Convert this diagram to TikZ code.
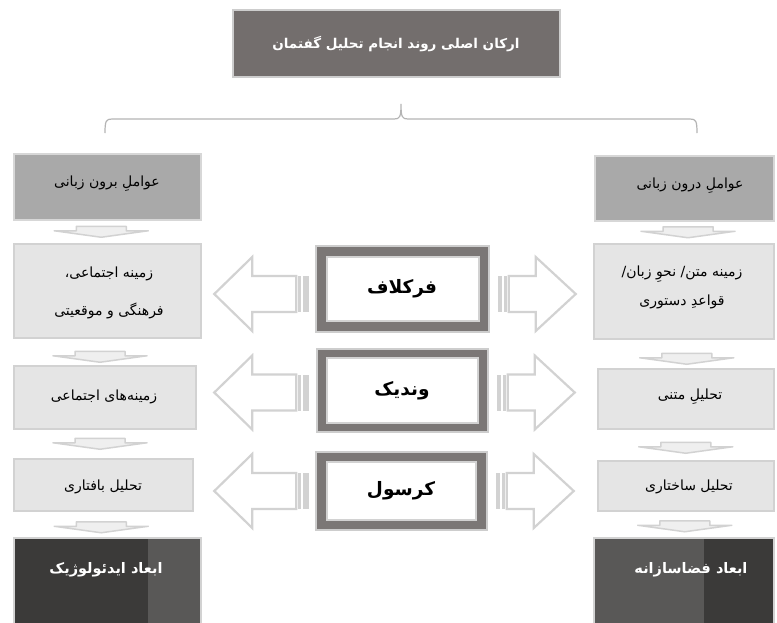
\documentclass[tikz,border=0pt]{standalone}
\usepackage{fontspec}
\usetikzlibrary{calc}
\newfontfamily\fa[Script=Arabic]{DejaVu Sans}
\TeXXeTstate=1
\definecolor{titlefill}{RGB}{115,110,109}
\definecolor{edgegray}{RGB}{205,205,205}
\definecolor{hdrfill}{RGB}{169,169,169}
\definecolor{lightfill}{RGB}{229,229,229}
\definecolor{darkA}{RGB}{59,58,57}
\definecolor{darkB}{RGB}{89,88,87}
\definecolor{framegray}{RGB}{123,119,118}
\definecolor{arrgray}{RGB}{210,210,210}
\definecolor{bracegray}{RGB}{180,180,180}
\tikzset{
  box/.style={draw=edgegray, line width=1.5pt, inner sep=0pt, rectangle},
  titlebox/.style={box, fill=titlefill, draw=edgegray},
  hdrbox/.style={box, fill=hdrfill, draw=edgegray!80!white},
  litebox/.style={box, fill=lightfill, draw=arrgray},
  txt/.style={font=\fa\fontsize{14}{20}\selectfont, text=black, align=center, inner sep=0pt},
  btxt/.style={font=\fa\bfseries\fontsize{14.5}{18}\selectfont, text=white, align=center, inner sep=0pt},
  ctxt/.style={font=\fa\bfseries\fontsize{18.5}{22}\selectfont, text=black, inner sep=0pt},
  frameout/.style={draw=edgegray, fill=framegray, line width=1.5pt},
  framein/.style={draw=arrgray, fill=white, line width=1.5pt},
  downarr/.pic={
    \draw[draw=arrgray, fill=lightfill!60!white, line width=1.5pt, line join=round]
      (-25,-5.5)--(25,-5.5)--(25,-1)--(47,-1)--(0,5.5)--(-47,-1)--(-25,-1)--cycle;
  },
  arrowL/.pic={
    \draw[draw=arrgray, fill=white, line width=2.2pt, line join=miter]
      (0,0)--(38,-37)--(38,-18)--(82,-18)--(82,18)--(38,18)--(38,37)--cycle;
    \fill[arrgray] (84,-18) rectangle (87,18);
    \fill[arrgray] (89,-18) rectangle (95,18);
  },
  arrowR/.pic={
    \draw[draw=arrgray, fill=white, line width=2.2pt, line join=miter]
      (0,0)--(-40,-37)--(-40,-18)--(-67,-18)--(-67,18)--(-40,18)--(-40,37)--cycle;
    \fill[arrgray] (-69,-18) rectangle (-72,18);
    \fill[arrgray] (-74,-18) rectangle (-78,18);
  }
}
\begin{document}
\begin{tikzpicture}[x=1pt,y=-1pt]
\useasboundingbox (0,0) rectangle (777,622);
\fill[white] (0,0) rectangle (777,622);

% title
\node[titlebox, minimum width=327, minimum height=67] (T) at (396.5,43.5) {};
\node[btxt, font=\fa\bfseries\fontsize{13.5}{16}\selectfont] (Tt) at (396,44) {\beginR ارکان اصلی روند  انجام تحلیل گفتمان\endR};

% brace
\coordinate (BrL) at (105,133);
\coordinate (BrM) at (401,104);
\coordinate (BrR) at (697,133);
\draw[bracegray, line width=1.2pt]
  (BrL) .. controls (105,121) and (106,119) .. (112,119) -- (394,119)
  .. controls (400,119) and (401,117) .. (BrM)
  .. controls (401,117) and (402,119) .. (408,119) -- (690,119)
  .. controls (696,119) and (697,121) .. (BrR);

% left column
\node[hdrbox, minimum width=187, minimum height=66, anchor=north west] (L1) at (13,153) {};
\node[litebox, minimum width=187, minimum height=94, anchor=north west] (L2) at (13,243) {};
\node[litebox, minimum width=182, minimum height=63, anchor=north west] (L3) at (13,365) {};
\node[litebox, minimum width=179, minimum height=52, anchor=north west] (L4) at (13,458) {};
\fill[darkA] (13,537) rectangle (148,623);
\fill[darkB] (148,537) rectangle (200,623);
\node[box, draw=arrgray, minimum width=187, minimum height=88, anchor=north west] (L5) at (13,537) {};

% right column
\node[hdrbox, minimum width=179, minimum height=65, anchor=north west] (R1) at (594,155) {};
\node[litebox, minimum width=180, minimum height=95, anchor=north west] (R2) at (593,243) {};
\node[litebox, minimum width=176, minimum height=60, anchor=north west] (R3) at (597,368) {};
\node[litebox, minimum width=176, minimum height=50, anchor=north west] (R4) at (597,460) {};
\fill[darkB] (593,537) rectangle (704,623);
\fill[darkA] (704,537) rectangle (773,623);
\node[box, draw=arrgray, minimum width=180, minimum height=88, anchor=north west] (R5) at (593,537) {};

% texts left
\node[txt] (L1t) at (107,184) {\beginR عواملِ برون زبانی\endR};
\node[txt, font=\fa\fontsize{14}{38}\selectfont] (L2t) at (109,292.5) {\beginR زمینه اجتماعی،\endR\\\beginR فرهنگی و موقعیتی\endR};
\node[txt] (L3t) at (104,397) {\beginR زمینه‌های اجتماعی\endR};
\node[txt] (L4t) at (103,487) {\beginR تحلیل بافتاری\endR};
\node[btxt] (L5t) at (106,570) {\beginR ابعاد ایدئولوژیک\endR};

% texts right
\node[txt] (R1t) at (690,186) {\beginR عواملِ درون زبانی\endR};
\node[txt, font=\fa\fontsize{14}{29}\selectfont] (R2t) at (682,287.5) {\beginR زمینه متن/ نحوِ زبان/\endR\\\beginR قواعدِ دستوری\endR};
\node[txt] (R3t) at (690,397) {\beginR تحلیلِ متنی\endR};
\node[txt] (R4t) at (689,487) {\beginR تحلیل ساختاری\endR};
\node[btxt] (R5t) at (691,570) {\beginR ابعاد فضاسازانه\endR};

% small down arrows
\pic at ($(L1.south)!0.5!(L2.north)+(-6,0)$) {downarr};
\pic at ($(L2.south)!0.5!(L3.north)+(-6,5)$) {downarr};
\pic at ($(L3.south)!0.5!(L4.north)+(-4,0)$) {downarr};
\pic at ($(L4.south)!0.5!(L5.north)+(-4,3)$) {downarr};
\pic at ($(R1.south)!0.5!(R2.north)+(4,0)$) {downarr};
\pic at ($(R2.south)!0.5!(R3.north)+(2,5)$) {downarr};
\pic at ($(R3.south)!0.5!(R4.north)+(0,3)$) {downarr};
\pic at ($(R4.south)!0.5!(R5.north)+(0,2)$) {downarr};

% center boxes
\node[frameout, minimum width=173, minimum height=86, inner sep=0pt] (F) at (402.5,289) {};
\node[framein, minimum width=152, minimum height=64, inner sep=0pt] (Fi) at (403,289) {};
\node[ctxt] (Ft) at (402,289) {\beginR فرکلاف\endR};

\node[frameout, minimum width=171, minimum height=83, inner sep=0pt] (V) at (402.5,390.5) {};
\node[framein, minimum width=151, minimum height=65, inner sep=0pt] (Vi) at (402.5,390.5) {};
\node[ctxt] (Vt) at (402,391) {\beginR وندیک\endR};

\node[frameout, minimum width=171, minimum height=78, inner sep=0pt] (K) at (401.5,491) {};
\node[framein, minimum width=149, minimum height=58, inner sep=0pt] (Ki) at (401.5,491) {};
\node[ctxt] (Kt) at (401,491) {\beginR کرسول\endR};

% big hollow arrows
\pic at ($(F.west)+(-101,5)$) {arrowL};
\pic at ($(F.east)+(86,5)$) {arrowR};
\pic at ($(V.west)+(-102,2)$) {arrowL};
\pic at ($(V.east)+(86,2)$) {arrowR};
\pic at ($(K.west)+(-101,0)$) {arrowL};
\pic at ($(K.east)+(86,0)$) {arrowR};
\end{tikzpicture}
\end{document}
